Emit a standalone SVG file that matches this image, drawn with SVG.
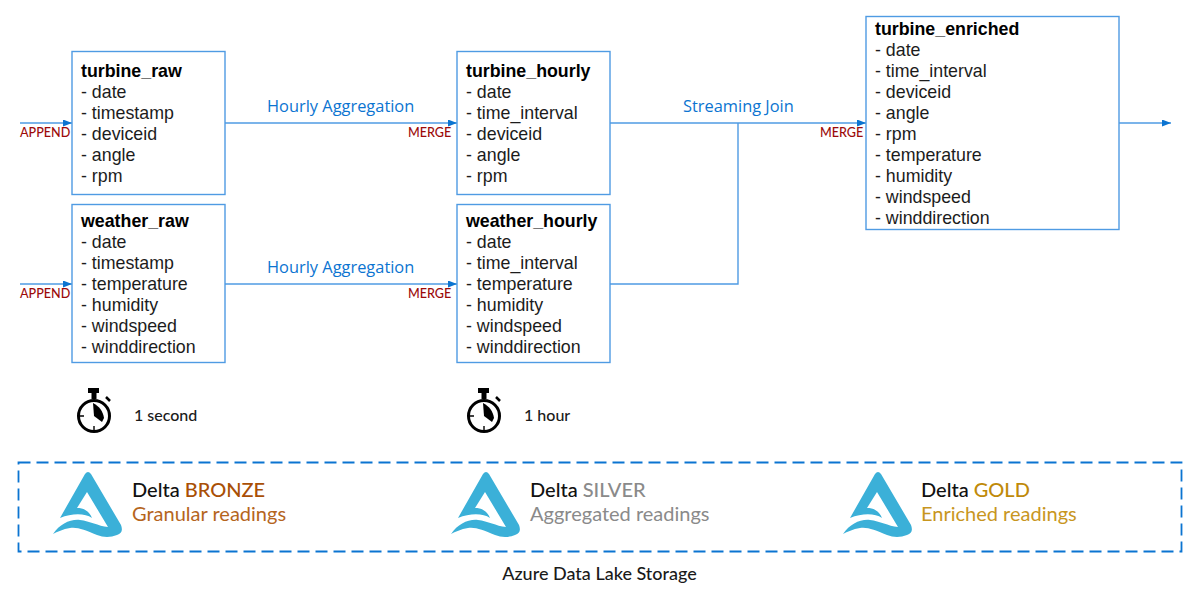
<svg xmlns="http://www.w3.org/2000/svg" width="1200" height="598" viewBox="0 0 1200 598">
<style>
.box{fill:#fff;stroke:#4f9be3;stroke-width:1.4}
.line{fill:none;stroke:#4f9be3;stroke-width:1.4}
.t{font-family:"Liberation Sans",Arial,sans-serif;font-size:17.8px;fill:#1c1c1c}
.t .h{font-weight:700;fill:#000}
.lab{font-family:"Open Sans",sans-serif;font-size:16.4px;font-weight:500;fill:#0b74d1}
.red{font-family:"Lato",sans-serif;font-size:12.6px;font-weight:500;fill:#9c0a0a}
.s{font-family:"Lato",sans-serif;font-size:16px;font-weight:500;fill:#1a1a1a}
.d{font-family:"Lato",sans-serif;font-size:20px;fill:#111}
.dh{font-weight:500}
</style>
<defs>
<marker id="arr" markerUnits="userSpaceOnUse" markerWidth="9" markerHeight="7" refX="9" refY="3.5" orient="auto"><path d="M0 0L9 3.5L0 7Z" fill="#0b74d1"/></marker>
<g id="logo"><path fill="#3bb0d8" d="M85 474Q88 470 91 474L121 525Q124 533 117 535Q107 539 97 535C85 530 78 527 70 528C63 529 57 532 53 534C60 524 70 519 80 520C90 521 98 526 108 527L87 492L77 508C84 508 89 511 92 518C85 513 72 513 60 518Z"/></g>
<g id="watch">
<circle cx="94" cy="416" r="15.500" fill="none" stroke="#000" stroke-width="3"/>
<path d="M88 388H99V393H96.500V399H91.500V393H88Z" fill="#000"/>
<path d="M93 403C99 406 103 411 104 418L102 422L94 416Z" fill="#000"/>
<path d="M94 426V431M79 416H84" stroke="#000" stroke-width="1.400"/>
<path d="M106 397L110 401" stroke="#000" stroke-width="2.500"/>
</g>
</defs>
<g id="connectors">
<path class="line" d="M20 123H72" marker-end="url(#arr)"/>
<path class="line" d="M20 284H72" marker-end="url(#arr)"/>
<path class="line" d="M225 123H457" marker-end="url(#arr)"/>
<path class="line" d="M225 284H457" marker-end="url(#arr)"/>
<path class="line" d="M610 123H866" marker-end="url(#arr)"/>
<path class="line" d="M610 284H738V123"/>
<path class="line" d="M1119 123H1171" marker-end="url(#arr)"/>
</g>
<g id="turbine_raw"><rect class="box" x="72" y="51.500" width="153" height="143"/>
<text class="t"><tspan class="h" x="81" y="77">turbine_raw</tspan><tspan x="81" y="98">- date</tspan><tspan x="81" y="119">- timestamp</tspan><tspan x="81" y="140">- deviceid</tspan><tspan x="81" y="161">- angle</tspan><tspan x="81" y="182">- rpm</tspan></text></g>
<g id="weather_raw"><rect class="box" x="72" y="204.500" width="153" height="158"/>
<text class="t"><tspan class="h" x="81" y="227">weather_raw</tspan><tspan x="81" y="248">- date</tspan><tspan x="81" y="269">- timestamp</tspan><tspan x="81" y="290">- temperature</tspan><tspan x="81" y="311">- humidity</tspan><tspan x="81" y="332">- windspeed</tspan><tspan x="81" y="353">- winddirection</tspan></text></g>
<g id="turbine_hourly"><rect class="box" x="457" y="51.500" width="153" height="143"/>
<text class="t"><tspan class="h" x="466" y="77">turbine_hourly</tspan><tspan x="466" y="98">- date</tspan><tspan x="466" y="119">- time_interval</tspan><tspan x="466" y="140">- deviceid</tspan><tspan x="466" y="161">- angle</tspan><tspan x="466" y="182">- rpm</tspan></text></g>
<g id="weather_hourly"><rect class="box" x="457" y="204.500" width="153" height="158"/>
<text class="t"><tspan class="h" x="466" y="227">weather_hourly</tspan><tspan x="466" y="248">- date</tspan><tspan x="466" y="269">- time_interval</tspan><tspan x="466" y="290">- temperature</tspan><tspan x="466" y="311">- humidity</tspan><tspan x="466" y="332">- windspeed</tspan><tspan x="466" y="353">- winddirection</tspan></text></g>
<g id="turbine_enriched"><rect class="box" x="866" y="16.500" width="253" height="213"/>
<text class="t"><tspan class="h" x="875" y="35">turbine_enriched</tspan><tspan x="875" y="56">- date</tspan><tspan x="875" y="77">- time_interval</tspan><tspan x="875" y="98">- deviceid</tspan><tspan x="875" y="119">- angle</tspan><tspan x="875" y="140">- rpm</tspan><tspan x="875" y="161">- temperature</tspan><tspan x="875" y="182">- humidity</tspan><tspan x="875" y="203">- windspeed</tspan><tspan x="875" y="224">- winddirection</tspan></text></g>
<g id="labels">
<text class="lab" x="267" y="112">Hourly Aggregation</text>
<text class="lab" x="267" y="273">Hourly Aggregation</text>
<text class="lab" x="683" y="112">Streaming Join</text>
<text class="red" x="20" y="137">APPEND</text>
<text class="red" x="20" y="298">APPEND</text>
<text class="red" x="408" y="137">MERGE</text>
<text class="red" x="408" y="298">MERGE</text>
<text class="red" x="820" y="137">MERGE</text>
</g>
<g id="timer-1"><use href="#watch"/><text class="s" x="134" y="421">1 second</text></g>
<g id="timer-2"><use href="#watch" x="390"/><text class="s" x="524" y="421">1 hour</text></g>
<g id="storage">
<rect x="18.500" y="462.500" width="1163" height="89" fill="none" stroke="#0b74d1" stroke-width="1.800" stroke-dasharray="12 6"/>
<text class="s" x="599.500" y="580" text-anchor="middle" style="font-size:18px">Azure Data Lake Storage</text>
</g>
<g id="bronze"><use href="#logo"/><text class="d" x="132" y="497"><tspan class="dh">Delta </tspan><tspan class="dh" fill="#a94f06">BRONZE</tspan></text><text class="d" x="132" y="521" style="fill:#b5651d">Granular readings</text></g>
<g id="silver"><use href="#logo" x="398"/><text class="d" x="530" y="497"><tspan class="dh">Delta </tspan><tspan class="dh" fill="#8a8a8a">SILVER</tspan></text><text class="d" x="530" y="521" style="fill:#8a8a8a">Aggregated readings</text></g>
<g id="gold"><use href="#logo" x="790"/><text class="d" x="921" y="497"><tspan class="dh">Delta </tspan><tspan class="dh" fill="#bf8a0a">GOLD</tspan></text><text class="d" x="921" y="521" style="fill:#c8961e">Enriched readings</text></g>
</svg>
